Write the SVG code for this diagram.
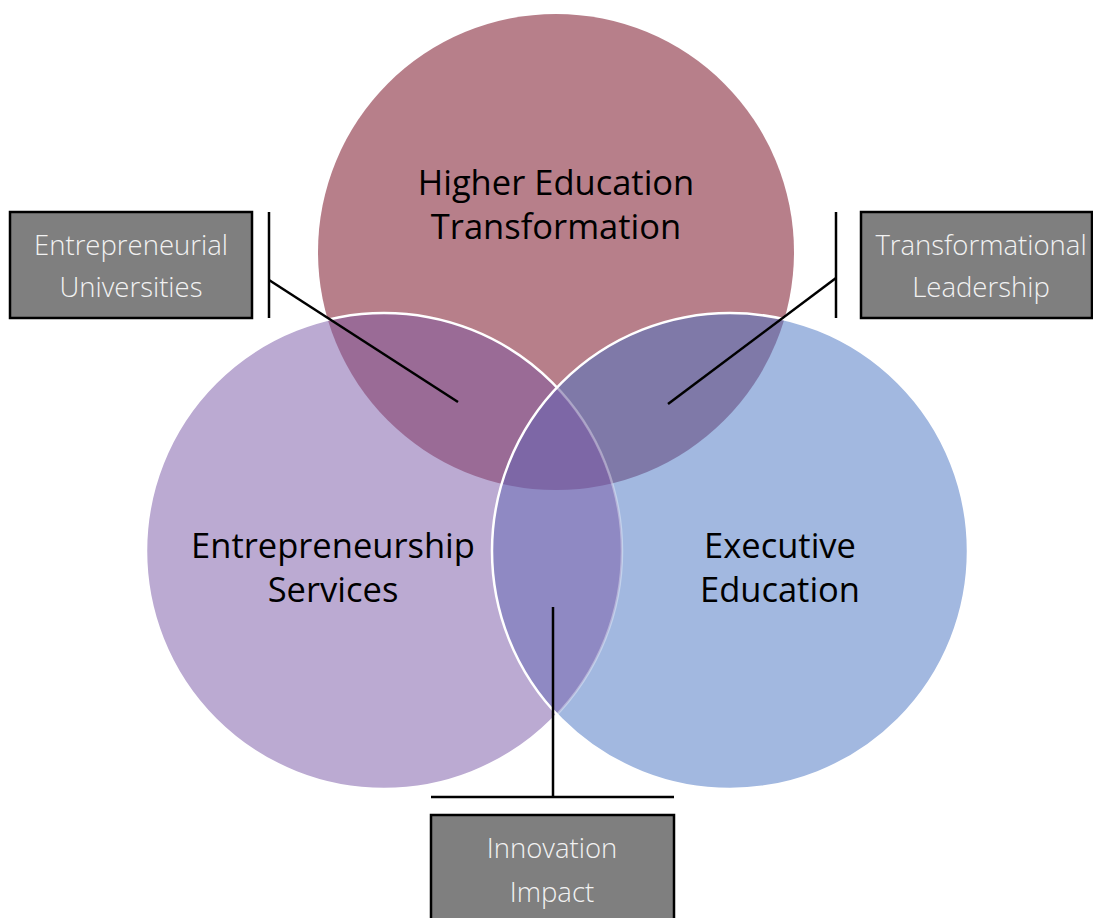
<svg xmlns="http://www.w3.org/2000/svg" width="1093" height="918" viewBox="0 0 1093 918">
<style>
.big{font-family:"Segoe UI","Open Sans","Noto Sans",sans-serif;font-size:34.5px;fill:#000;text-anchor:middle}
.lbl{font-family:"Segoe UI","Open Sans","Noto Sans",sans-serif;font-weight:300;font-size:27.5px;fill:#F2F2F2;text-anchor:middle}
.box{fill:#7F7F7F;stroke:#000;stroke-width:2.5}
.con{stroke:#000;stroke-width:2.5;fill:none}
</style>
<defs>
<circle id="cT" cx="556" cy="252" r="238"/>
<circle id="cL" cx="384" cy="551" r="238"/>
<circle id="cR" cx="730" cy="551" r="238"/>
<clipPath id="clipT"><use href="#cT"/></clipPath>
<clipPath id="clipL"><use href="#cL"/></clipPath>
<clipPath id="clipR"><use href="#cR"/></clipPath>
<mask id="outR"><rect width="1093" height="918" fill="#fff"/><use href="#cR" fill="#000"/></mask>
<mask id="inR"><use href="#cR" fill="#fff"/></mask>
</defs>
<g id="venn">
<g id="node-higher-education"><use href="#cT" fill="#B77F8A"/></g>
<g id="node-entrepreneurship-services"><use href="#cL" fill="#BBAAD2"/></g>
<g id="node-executive-education"><use href="#cR" fill="#A2B8E0"/></g>
<g clip-path="url(#clipT)"><use href="#cL" fill="#9A6B96"/></g>
<g clip-path="url(#clipT)"><use href="#cR" fill="#7F79A8"/></g>
<g clip-path="url(#clipL)"><use href="#cR" fill="#8F89C3"/></g>
<g clip-path="url(#clipT)"><g clip-path="url(#clipL)"><use href="#cR" fill="#7D67A6"/></g></g>
<use href="#cL" fill="none" stroke="#fff" stroke-width="2.5" mask="url(#outR)"/>
<use href="#cL" fill="none" stroke="#fff" stroke-width="2.5" stroke-opacity="0.35" mask="url(#inR)"/>
<use href="#cR" fill="none" stroke="#fff" stroke-width="2.5"/>
<text class="big" x="556" y="195">Higher Education</text>
<text class="big" x="556" y="239">Transformation</text>
<text class="big" x="333" y="558">Entrepreneurship</text>
<text class="big" x="333" y="602">Services</text>
<text class="big" x="780" y="558">Executive</text>
<text class="big" x="780" y="602">Education</text>
</g>
<g id="connectors">
<line class="con" x1="269" y1="212" x2="269" y2="318"/>
<line class="con" x1="269" y1="280" x2="458" y2="402"/>
<line class="con" x1="836" y1="212" x2="836" y2="318"/>
<line class="con" x1="836" y1="278" x2="668" y2="404"/>
<line class="con" x1="431" y1="797" x2="674" y2="797"/>
<line class="con" x1="553" y1="797" x2="553" y2="607"/>
</g>
<g id="node-entrepreneurial-universities">
<rect class="box" x="10" y="212" width="242" height="106"/>
<text class="lbl" x="131" y="255">Entrepreneurial</text>
<text class="lbl" x="131" y="297">Universities</text>
</g>
<g id="node-transformational-leadership">
<rect class="box" x="861" y="212" width="231" height="106"/>
<text class="lbl" x="981" y="255">Transformational</text>
<text class="lbl" x="981" y="297">Leadership</text>
</g>
<g id="node-innovation-impact">
<rect class="box" x="431" y="815" width="243" height="110"/>
<text class="lbl" x="552" y="858">Innovation</text>
<text class="lbl" x="552" y="902">Impact</text>
</g>
</svg>
